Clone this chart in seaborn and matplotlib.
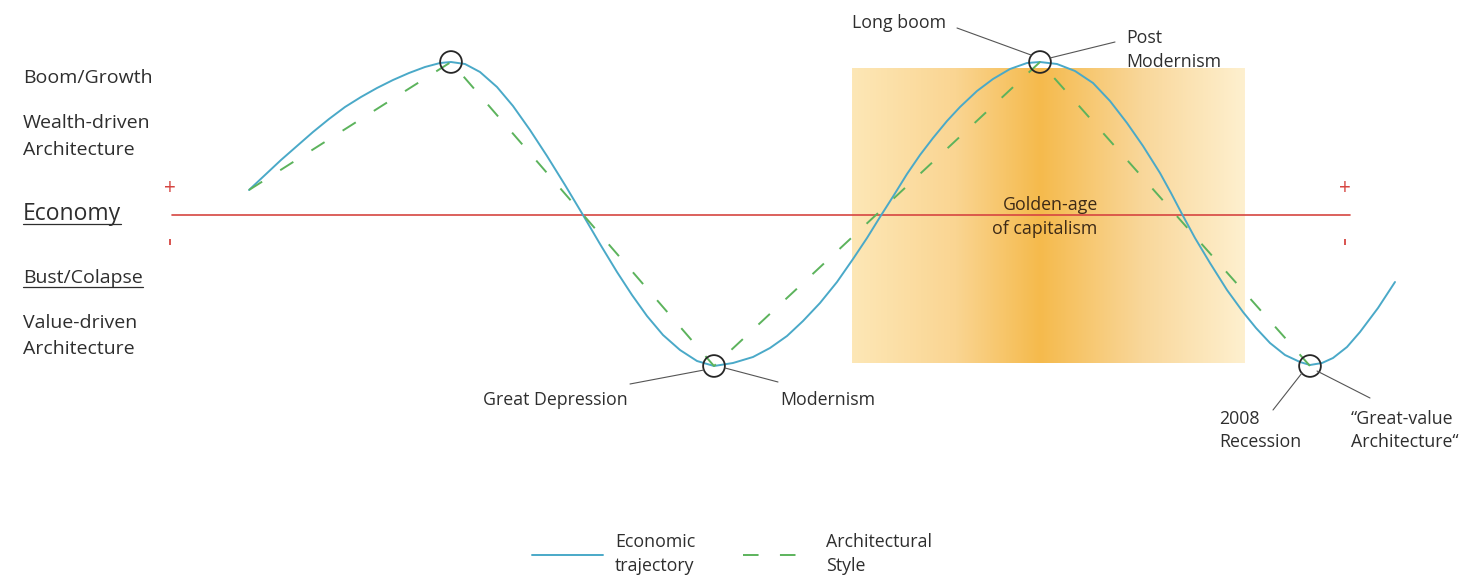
import numpy as np
import pandas as pd
import matplotlib
matplotlib.use("Agg")
import matplotlib.pyplot as plt
import seaborn as sns
from matplotlib.colors import LinearSegmentedColormap

sns.set_theme(style="white")
plt.rcParams['font.family'] = ['Open Sans', 'DejaVu Sans']

# ---------------- data (canvas units) ----------------
econ_x = [249, 265, 281, 297, 313, 329, 345, 361, 377, 393, 409, 425, 440, 451,
          465, 480, 497, 513, 530, 547, 565, 583, 600, 617, 632, 647, 663, 680, 697,
          714, 733, 753, 770, 787, 803, 820, 837, 853, 867, 880, 894, 907, 920,
          933, 947, 960, 977, 993, 1010, 1027, 1040,
          1057, 1075, 1093, 1110, 1127, 1143, 1160, 1171, 1182, 1195, 1210, 1227,
          1243, 1256, 1270, 1285, 1300, 1310,
          1322, 1333, 1347, 1360, 1378, 1395]
econ_y = [190, 175, 160, 146, 132, 119, 107, 97, 88, 80, 73, 67, 63, 62,
          64, 72, 87, 106, 130, 156, 185, 215, 244, 272, 295, 316, 335, 350, 361,
          366, 363, 357, 348, 336, 321, 303, 282, 259, 238, 217, 195, 174, 155,
          138, 121, 107, 91, 79, 69, 63, 62,
          64, 71, 83, 101, 123, 146, 173, 193, 214, 238, 263, 290,
          312, 328, 343, 355, 362, 365,
          363, 358, 347, 332, 308, 282]

style_x = [249, 451, 714, 1040, 1310]
style_y = [190, 62, 366, 62, 366]

turn_x = [451, 714, 1040, 1310]
turn_y = [62, 366, 62, 366]

axis_x = [172, 1350]
axis_y = [215, 215]

golden_x = [852, 1245]
golden_y = [68, 363]
golden_center = 1040

series_labels = ["Economic\ntrajectory", "Architectural\nStyle"]

# ---------------- styling ----------------
BLUE = "#4aa9c8"
GREEN = "#5cb35c"
RED = "#d64541"
TXT = "#2e2e2e"
LEAD = "#555555"
FS = 14      # left-hand labels
FA = 12.8    # annotations / legend

fig = plt.figure(figsize=(14.81, 5.83), dpi=100)
ax = fig.add_axes([0, 0, 1, 1])

# golden-age gradient panel
frac = (golden_center - golden_x[0]) / (golden_x[1] - golden_x[0])
gold_cmap = LinearSegmentedColormap.from_list(
    "gold", [(0.0, "#fde7b6"), (frac * 0.55, "#fad592"), (frac, "#f5ba4c"),
             (frac + (1 - frac) * 0.5, "#f9d79a"), (1.0, "#fef0cf")])
grad = np.linspace(0, 1, 512)[None, :]
ax.imshow(grad, cmap=gold_cmap, extent=(golden_x[0], golden_x[1], golden_y[1], golden_y[0]),
          aspect="auto", interpolation="bilinear", zorder=1)

# economy axis
sns.lineplot(x=axis_x, y=axis_y, color=RED, linewidth=1.2, ax=ax, zorder=3,
             sort=False, estimator=None)

# curves
econ_df = pd.DataFrame({"x": econ_x, "y": econ_y})
style_df = pd.DataFrame({"x": style_x, "y": style_y})
sns.lineplot(data=econ_df, x="x", y="y", sort=False, estimator=None, color=BLUE,
             linewidth=1.4, ax=ax, zorder=4, label=series_labels[0])
sns.lineplot(data=style_df, x="x", y="y", sort=False, estimator=None, color=GREEN,
             linewidth=1.4, linestyle=(0, (8, 11)), ax=ax, zorder=4, label=series_labels[1])

# turning-point circles
ax.scatter(turn_x, turn_y, s=245, facecolors="none", edgecolors="#262626",
           linewidths=1.3, zorder=5)

# +/- signs
for xs in (170, 1345):
    ax.text(xs, 189, "+", color=RED, fontsize=15, ha="center", va="center", zorder=5)
    ax.plot([xs], [242], marker="|", markersize=5, color=RED, markeredgewidth=1.3, zorder=5)

# text helper
def t(x, y, s, size=FA, ha="left", color=TXT, **kw):
    return ax.text(x, y, s, fontsize=size, ha=ha, va="baseline", color=color, zorder=6, **kw)

t(23, 83, "Boom/Growth", size=FS)
t(23, 128, "Wealth-driven", size=FS)
t(23, 155, "Architecture", size=FS)
econ_txt = t(23, 220, "Economy", size=16.5)
bust_txt = t(23, 283, "Bust/Colapse", size=FS)
t(23, 328, "Value-driven", size=FS)
t(23, 354, "Architecture", size=FS)

# annotations
t(628, 405, "Great Depression", ha="right")
t(780, 405, "Modernism")
t(852, 28, "Long boom")
t(1126, 43, "Post")
t(1126, 67, "Modernism")
t(1050, 210, "Golden-age", ha="center", color="#3d2a17")
t(1045, 234, "of capitalism", ha="center", color="#3d2a17")
t(1219, 424, "2008")
t(1219, 447, "Recession")
t(1351, 424, "\u201cGreat-value")
t(1351, 447, "Architecture\u201c")

# leader lines
leaders = [((630, 384), (704, 370)), ((725, 368), (778, 382)),
           ((957, 28), (1031, 55)), ((1050, 58), (1115, 42)),
           ((1273, 410), (1302, 373)), ((1317, 371), (1370, 398))]
for (x0, y0), (x1, y1) in leaders:
    ax.plot([x0, x1], [y0, y1], color=LEAD, linewidth=0.8, zorder=5)

# legend
leg = ax.legend(loc="upper left", bbox_to_anchor=(532 / 1481, 1 - 533 / 583),
                bbox_transform=fig.transFigure, ncol=2, frameon=False,
                fontsize=FA, handlelength=4.0, handletextpad=0.67,
                columnspacing=2.66, borderaxespad=0, borderpad=0, labelcolor=TXT)
for tx in leg.get_texts():
    tx.set_linespacing(1.45)

ax.set_xlim(0, 1481)
ax.set_ylim(583, 0)
ax.axis("off")

# underline
fig.canvas.draw()
r = fig.canvas.get_renderer()
inv = ax.transData.inverted()
for txt, off in ((econ_txt, 3.5), (bust_txt, 3.5)):
    bb = txt.get_window_extent(r)
    (xa, _), (xb, _) = inv.transform([[bb.x0, bb.y0], [bb.x1, bb.y0]])
    y = txt.get_position()[1] + off
    ax.plot([xa, xb], [y, y], color=TXT, linewidth=0.9, zorder=6)

fig.savefig("out.png", dpi=100, facecolor="white")
